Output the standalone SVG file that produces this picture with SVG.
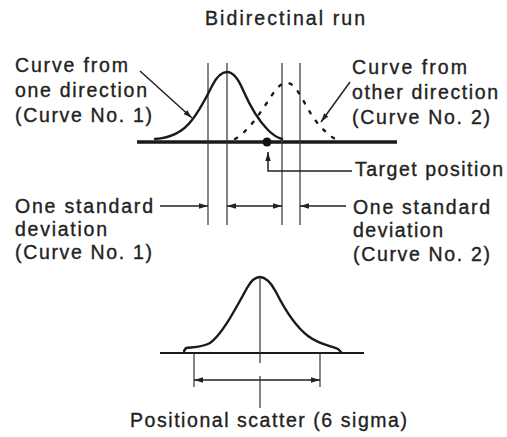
<svg xmlns="http://www.w3.org/2000/svg" width="507" height="437" viewBox="0 0 507 437">
<defs>
<style>
.t{font-family:"Liberation Sans",Arial,sans-serif;font-size:19.5px;fill:#222;stroke:#222;stroke-width:0.35;}
.ln{stroke:#222;stroke-width:1.5;fill:none;}
.thin{stroke:#333;stroke-width:1.2;fill:none;}
.curve{stroke:#1a1a1a;stroke-width:2.4;fill:none;stroke-linejoin:round;stroke-linecap:round;}
.axis{stroke:#1a1a1a;fill:none;}
</style>
<marker id="arr" viewBox="0 0 10 6" refX="10" refY="3" markerWidth="9" markerHeight="5.5" markerUnits="userSpaceOnUse" orient="auto-start-reverse">
<path d="M0,0 L10,3 L0,6 z" fill="#222"/>
</marker>
</defs>
<rect width="507" height="437" fill="#fff"/>

<g id="title"><text class="t" x="205" y="25" textLength="160" lengthAdjust="spacing">Bidirectinal run</text></g>

<g id="top-chart">
<line class="axis" x1="137" y1="142" x2="397" y2="142" stroke-width="3.5"/>
<line class="thin" x1="208" y1="63" x2="208" y2="225"/>
<line class="thin" x1="227" y1="63" x2="227" y2="225"/>
<line class="thin" x1="282" y1="63" x2="282" y2="225"/>
<line class="thin" x1="300" y1="63" x2="300" y2="225"/>
<path id="curve1" class="curve" d="M155,139 C170,138 183,132 192,120 C200,110 206,98 212,86 C217,76 222,72 227,72 C233,72 238,78 243,90 C250,106 258,120 268,130 C273,135 278,138 282,139"/>
<path id="curve2" class="curve" stroke-dasharray="2.5 9" stroke-width="2" d="M235,139 C250,130 262,110 272,95 C278,86 282,83 287,83 C292,83 296,88 302,98 C310,113 318,128 335,139"/>
<circle id="target-dot" cx="267" cy="142" r="4.5" fill="#111"/>
</g>

<g id="bottom-chart">
<line class="axis" x1="160" y1="353" x2="364" y2="353" stroke-width="2"/>
<path id="curve3" class="curve" d="M184,351 L186,348 C195,347 203,347 210,343 C222,335 236,308 247,288 C252,279 256,277 260,277 C265,277 270,281 276,292 C285,310 295,326 308,336 C320,345 332,346 338,349 L341,352"/>
<line class="thin" x1="260" y1="277" x2="260" y2="363"/>
<line class="thin" x1="260" y1="376" x2="260" y2="408"/>
<line class="thin" x1="194" y1="353" x2="194" y2="387"/>
<line class="thin" x1="320" y1="353" x2="320" y2="387"/>
</g>

<g id="label-curve1">
<text class="t" x="15" y="72" textLength="113" lengthAdjust="spacing">Curve from</text>
<text class="t" x="15" y="97" textLength="132" lengthAdjust="spacing">one direction</text>
<text class="t" x="15" y="122" textLength="137" lengthAdjust="spacing">(Curve No. 1)</text>
</g>
<g id="label-curve2">
<text class="t" x="352" y="74" textLength="115" lengthAdjust="spacing">Curve from</text>
<text class="t" x="352" y="99" textLength="146" lengthAdjust="spacing">other direction</text>
<text class="t" x="352" y="124" textLength="138" lengthAdjust="spacing">(Curve No. 2)</text>
</g>
<g id="label-target">
<text class="t" x="355" y="176" textLength="148" lengthAdjust="spacing">Target position</text>
</g>
<g id="label-sd1">
<text class="t" x="15" y="213" textLength="138" lengthAdjust="spacing">One standard</text>
<text class="t" x="15" y="236" textLength="92" lengthAdjust="spacing">deviation</text>
<text class="t" x="15" y="259" textLength="137" lengthAdjust="spacing">(Curve No. 1)</text>
</g>
<g id="label-sd2">
<text class="t" x="353" y="214" textLength="137" lengthAdjust="spacing">One standard</text>
<text class="t" x="353" y="237" textLength="90" lengthAdjust="spacing">deviation</text>
<text class="t" x="353" y="261" textLength="137" lengthAdjust="spacing">(Curve No. 2)</text>
</g>
<g id="label-scatter">
<text class="t" x="130" y="427" textLength="277" lengthAdjust="spacing">Positional scatter (6 sigma)</text>
</g>

<g id="connectors">
<line class="ln" x1="140" y1="71" x2="192" y2="118" marker-end="url(#arr)"/>
<line class="ln" x1="350" y1="82" x2="321" y2="122" marker-end="url(#arr)"/>
<polyline class="ln" points="352,171 268,171 268,152" marker-end="url(#arr)"/>
<line class="ln" x1="160" y1="206" x2="208" y2="206" marker-end="url(#arr)"/>
<line class="ln" x1="227" y1="206" x2="282" y2="206" marker-start="url(#arr)" marker-end="url(#arr)"/>
<line class="ln" x1="346" y1="206" x2="300" y2="206" marker-end="url(#arr)"/>
<line class="ln" x1="194" y1="380" x2="320" y2="380" marker-start="url(#arr)" marker-end="url(#arr)"/>
</g>
</svg>
